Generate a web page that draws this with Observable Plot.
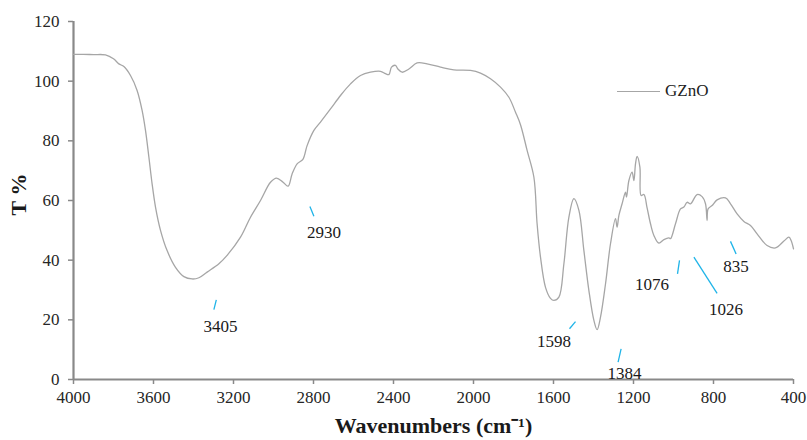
<!DOCTYPE html>
<html>
<head>
<meta charset="utf-8">
<script src="https://cdn.jsdelivr.net/npm/d3@7"></script>
<script src="https://cdn.jsdelivr.net/npm/@observablehq/plot@0.6"></script>
<style>
  body { margin: 0; background: #fff; }
  #wrap { position: relative; width: 807px; height: 440px; font-family: 'Liberation Serif', serif; }
  #legend { position: absolute; left: 617px; top: 81px; display: flex; align-items: center; font-family: 'Liberation Serif', serif; font-size: 17px; color: #222; z-index: 2; }
  #legend .sw { width: 43px; height: 0; border-top: 1.3px solid #a6a6a6; margin-right: 5px; }
</style>
</head>
<body>
<div id="wrap"><div id="legend"><span class="sw"></span><span>GZnO</span></div></div>
<script>
const seriesName = "GZnO";
const wavenumber = [4000,3950,3900,3840,3800,3773,3748,3715,3682,3657,3640,3623,3607,3590,3565,3532,3490,3448,3407,3373,3332,3273,3232,3165,3115,3065,3015,2985,2952,2927,2907,2882,2853,2832,2798,2765,2715,2665,2615,2565,2515,2465,2440,2423,2410,2390,2378,2357,2323,2282,2232,2165,2098,2015,1965,1915,1865,1823,1790,1765,1732,1698,1682,1665,1640,1615,1598,1573,1548,1523,1498,1473,1448,1423,1398,1382,1365,1340,1315,1290,1282,1273,1257,1240,1235,1223,1207,1198,1190,1182,1168,1162,1148,1132,1115,1098,1073,1048,1023,1015,990,965,948,932,915,882,857,840,832,827,807,782,740,715,682,648,615,582,532,490,448,423,412,400];
const transmittance = [109.0,109.0,108.9,108.8,107.5,105.8,104.9,101.9,96.9,90.2,83.5,74.5,65.6,57.8,50.0,43.2,37.6,34.5,33.7,34.1,36.0,38.8,41.6,47.7,54.4,60.0,66.1,67.5,66.1,64.8,68.9,72.3,73.8,78.4,83.5,86.3,90.7,95.2,99.1,101.9,103.0,103.3,102.5,102.2,104.7,105.3,104.1,103.0,104.1,106.1,105.8,104.7,103.8,103.6,102.7,100.8,98.0,94.6,89.6,85.4,76.8,67.8,52.2,41.0,30.9,27.2,26.5,27.6,38.8,54.4,60.6,56.7,43.2,29.8,19.8,16.7,20.9,32.0,45.5,53.9,51.1,55.0,58.9,62.8,61.1,66.7,69.5,66.7,72.3,74.8,71.2,61.7,62.0,57.5,52.2,48.3,45.7,46.9,47.5,47.2,52.2,57.2,57.8,59.4,58.9,62.0,61.3,58.9,53.3,57.2,58.3,60.2,60.9,58.9,55.5,53.0,51.6,48.8,44.9,44.1,46.4,47.7,46.6,43.8];

const xTicks = [4000,3600,3200,2800,2400,2000,1600,1200,800,400];
const yTicks = [0,20,40,60,80,100,120];

const peakLabels = ["3405","2930","1598","1384","1076","1026","835"];
const labelX = [3265,2748,1598,1245,1107,737,687];
const labelY = [17.8,49.4,12.8,1.9,31.8,23.5,38.0];
const leaderX1 = [3286,2818,1490,1262,970,898,715];
const leaderY1 = [26.7,58.0,19.4,10.3,39.9,41.0,46.3];
const leaderX2 = [3298,2798,1520,1277,980,782,687];
const leaderY2 = [23.4,54.7,17.0,5.8,35.4,28.9,42.1];

const spectrum = wavenumber.map((w, i) => ({w, t: transmittance[i]}));
const peaks = peakLabels.map((label, i) => ({label, x: labelX[i], y: labelY[i], x1: leaderX1[i], y1: leaderY1[i], x2: leaderX2[i], y2: leaderY2[i]}));

const font = "Liberation Serif";
const axisGray = "#898989";

const chart = Plot.plot({
  width: 807,
  height: 440,
  marginLeft: 73,
  marginRight: 14,
  marginTop: 21,
  marginBottom: 61,
  style: {fontFamily: font, fontSize: "17px", color: "#262626", background: "white"},
  x: {domain: [4000, 400], ticks: xTicks},
  y: {domain: [0, 120], ticks: yTicks},
  marks: [
    Plot.axisX({ticks: xTicks, tickSize: 5, tickPadding: 6, stroke: axisGray, strokeWidth: 1.5, fontSize: 17, fill: "#262626", label: null, tickFormat: d => String(d)}),
    Plot.axisY({ticks: yTicks, tickSize: 5, tickPadding: 9, stroke: axisGray, strokeWidth: 1.5, fontSize: 17, fill: "#262626", label: null}),
    Plot.ruleY([0], {stroke: axisGray, strokeWidth: 2.2}),
    Plot.ruleX([4000], {stroke: axisGray, strokeWidth: 2.2}),
    Plot.line(spectrum, {x: "w", y: "t", stroke: "#a6a6a6", strokeWidth: 1.3, curve: "catmull-rom"}),
    Plot.link(peaks, {x1: "x1", y1: "y1", x2: "x2", y2: "y2", stroke: "#1fb4e8", strokeWidth: 1.3}),
    Plot.text(peaks, {x: "x", y: "y", text: "label", fontSize: 17, fill: "#1a1a1a"}),
    Plot.text(["Wavenumbers (cm⁻¹)"], {frameAnchor: "bottom", dy: 46, textAnchor: "middle", lineAnchor: "middle", fontSize: 22, fontWeight: "bold", fill: "#1a1a1a"}),
    Plot.text(["T %"], {frameAnchor: "left", dx: -55, dy: -6, textAnchor: "middle", lineAnchor: "middle", rotate: -90, fontSize: 22, fontWeight: "bold", fill: "#1a1a1a"})
  ]
});
d3.select(chart).selectAll("text, g").style("font-family", "'Liberation Serif', serif");
document.getElementById("wrap").prepend(chart);
chart.style.position = "absolute";
chart.style.left = "0";
chart.style.top = "0";
</script>
</body>
</html>
